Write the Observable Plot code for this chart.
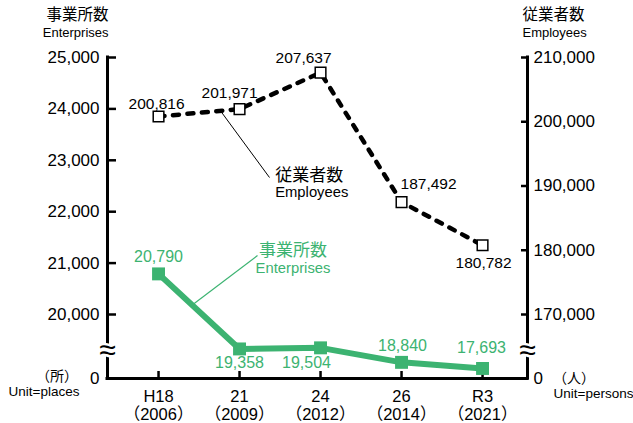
<!DOCTYPE html>
<html>
<head>
<meta charset="utf-8">
<script src="https://cdn.jsdelivr.net/npm/d3@7"></script>
<script src="https://cdn.jsdelivr.net/npm/@observablehq/plot@0.6"></script>
<style>
  html, body { margin: 0; padding: 0; background: #fff; }
</style>
</head>
<body>
<div id="chart"></div>
<script>
// ---- data ----
const periods = ["H18", "21", "24", "26", "R3"];
const years = ["2006", "2009", "2012", "2014", "2021"];
const enterprises = [20790, 19358, 19504, 18840, 17693];
const employees = [200816, 201971, 207637, 187492, 180782];
const leftTicks = [0, 20000, 21000, 22000, 23000, 24000, 25000];
const rightTicks = [0, 170000, 180000, 190000, 200000, 210000];

// ---- styling / layout config ----
const green = "#3cb371";
const font = "'Liberation Sans', Arial, 'Noto Sans CJK JP', sans-serif";
const fmt = d3.format(",");
const xDomain = [-0.63, 4.555];
// broken left axis (enterprises): piecewise (schematic below 20,000)
const yDomain = [0, 17500, 19000, 19350, 19550, 20000, 25000];
const yRange = [378, 369, 361, 348.5, 347, 314, 57];
// right axis (employees) mapped onto the left-axis units
const empToEnt = d3.scaleLinear().domain([0, 170000, 210000]).range([0, 20000, 25000]);
const breakAt = 19300;

const entLabelDx = [0, 0, -14, 1, -1];
const entLabelDy = [-17, 14, 15, -16, -21];
const empLabelDx = [-2, -10, -17, 27, 1];
const empLabelDy = [-12, -16, -15, -18, 18];

const idx = periods.map((_, i) => i);
const entData = idx.map(i => ({i, v: enterprises[i]}));
const empData = idx.map(i => ({i, v: employees[i], y: empToEnt(employees[i])}));

// annotations (leader line from a point along the first segment)
const empFrac = 0.765;
const entFrac = 0.42;
const empLead = [{
  x1: empFrac, y1: empToEnt(employees[0] + empFrac * (employees[1] - employees[0])),
  x2: 1.37, y2: 22665
}];
const entLead = [{
  x1: entFrac, y1: enterprises[0] + entFrac * (enterprises[1] - enterprises[0]),
  x2: 1.222, y2: 21148
}];
const empNote = [{x: 1.44, y1: 22704, y2: 22374}];
const entNote = [{x: 1.66, y1: 21245, y2: 20895}];

const marks = [
  // frame lines
  Plot.ruleY([0], {strokeWidth: 3, strokeLinecap: "square"}),
  Plot.ruleX(xDomain, {strokeWidth: 3, strokeLinecap: "square"}),
  // left axis
  Plot.axisY(leftTicks.slice(1), {anchor: "left", tickSize: -9, strokeWidth: 2.5, tickFormat: () => "", label: null}),
  Plot.axisY(leftTicks, {anchor: "left", tickSize: 0, tickPadding: 8, tickFormat: fmt, fontSize: 17, label: null}),
  // right axis
  Plot.axisY(rightTicks.slice(1).map(empToEnt), {anchor: "right", tickSize: -7, strokeWidth: 2.5, tickFormat: () => "", label: null}),
  Plot.axisY(rightTicks.map(empToEnt), {anchor: "right", tickSize: 0, tickPadding: 6,
    tickFormat: d => fmt(Math.round(empToEnt.invert(d))), fontSize: 17, label: null}),
  // x axis ticks + labels
  Plot.axisX(idx, {anchor: "bottom", tickSize: -7, strokeWidth: 2.5, tickFormat: () => "", label: null}),
  Plot.text(idx, {x: d => d, y: () => 0, text: i => periods[i], dy: 23, lineAnchor: "bottom", fontSize: 16.5}),
  Plot.text(idx, {x: d => d, y: () => 0, text: i => `（${years[i]}）`, dy: 41, lineAnchor: "bottom", fontSize: 16.5}),
  // break marks
  Plot.text([breakAt], {y: d => d, frameAnchor: "left", text: () => "≈", textAnchor: "middle", fontSize: 30,
    fill: "black", stroke: "white", strokeWidth: 5, paintOrder: "stroke"}),
  Plot.text([breakAt], {y: d => d, frameAnchor: "right", text: () => "≈", textAnchor: "middle", fontSize: 30,
    fill: "black", stroke: "white", strokeWidth: 5, paintOrder: "stroke"}),
  // headers
  Plot.text(["事業所数"], {frameAnchor: "top-left", text: d => d, dx: 1, dy: -38, textAnchor: "end", lineAnchor: "bottom", fontSize: 15.5}),
  Plot.text(["Enterprises"], {frameAnchor: "top-left", text: d => d, dx: 1, dy: -20.5, textAnchor: "end", lineAnchor: "bottom", fontSize: 13}),
  Plot.text(["従業者数"], {frameAnchor: "top-right", text: d => d, dx: -5, dy: -38, textAnchor: "start", lineAnchor: "bottom", fontSize: 15.5}),
  Plot.text(["Employees"], {frameAnchor: "top-right", text: d => d, dx: -5, dy: -20.5, textAnchor: "start", lineAnchor: "bottom", fontSize: 13}),
  // units
  Plot.text(["（所）"], {frameAnchor: "bottom-left", text: d => d, dx: -50.5, dy: 2.3, textAnchor: "middle", lineAnchor: "bottom", fontSize: 14}),
  Plot.text(["Unit=places"], {frameAnchor: "bottom-left", text: d => d, dx: -63.5, dy: 17, textAnchor: "middle", lineAnchor: "bottom", fontSize: 13.5}),
  Plot.text(["（人）"], {frameAnchor: "bottom-right", text: d => d, dx: 46.5, dy: 4.3, textAnchor: "middle", lineAnchor: "bottom", fontSize: 14}),
  Plot.text(["Unit=persons"], {frameAnchor: "bottom-right", text: d => d, dx: 66, dy: 19.5, textAnchor: "middle", lineAnchor: "bottom", fontSize: 13.5}),
  // leader lines + annotation labels
  Plot.link(empLead, {x1: "x1", y1: "y1", x2: "x2", y2: "y2", stroke: "black", strokeWidth: 1}),
  Plot.link(entLead, {x1: "x1", y1: "y1", x2: "x2", y2: "y2", stroke: green, strokeWidth: 1.2}),
  Plot.text(empNote, {x: "x", y: "y1", text: () => "従業者数", textAnchor: "start", fontSize: 17}),
  Plot.text(empNote, {x: "x", y: "y2", text: () => "Employees", textAnchor: "start", fontSize: 14.8}),
  Plot.text(entNote, {x: "x", y: "y1", text: () => "事業所数", textAnchor: "middle", fontSize: 17, fill: green}),
  Plot.text(entNote, {x: "x", y: "y2", text: () => "Enterprises", textAnchor: "middle", fontSize: 14.8, fill: green}),
  // enterprises series
  Plot.line(entData, {x: "i", y: "v", stroke: green, strokeWidth: 6}),
  Plot.dot(entData, {x: "i", y: "v", symbol: "square", r: 7.3, fill: green, stroke: "none"}),
  // employees series
  Plot.line(empData, {x: "i", y: "y", stroke: "black", strokeWidth: 4.5, strokeDasharray: "6,8.5"}),
  Plot.dot(empData, {x: "i", y: "y", symbol: "square", r: 6, fill: "white", stroke: "black", strokeWidth: 1.5}),
  // value labels
  ...idx.map(i => Plot.text([entData[i]], {x: "i", y: "v", text: d => fmt(d.v), dx: entLabelDx[i], dy: entLabelDy[i], fill: green, fontSize: 16})),
  ...idx.map(i => Plot.text([empData[i]], {x: "i", y: "y", text: d => fmt(d.v), dx: empLabelDx[i], dy: empLabelDy[i], fill: "black", fontSize: 15.5}))
];

const chart = Plot.plot({
  width: 633,
  height: 423,
  marginLeft: 107,
  marginRight: 106,
  marginTop: 57,
  marginBottom: 45,
  style: {fontFamily: font, fontSize: "16px", background: "white", color: "black"},
  x: {type: "linear", domain: xDomain, axis: null},
  y: {type: "linear", domain: yDomain, range: yRange, axis: null},
  marks
});
document.getElementById("chart").appendChild(chart);
</script>
</body>
</html>
